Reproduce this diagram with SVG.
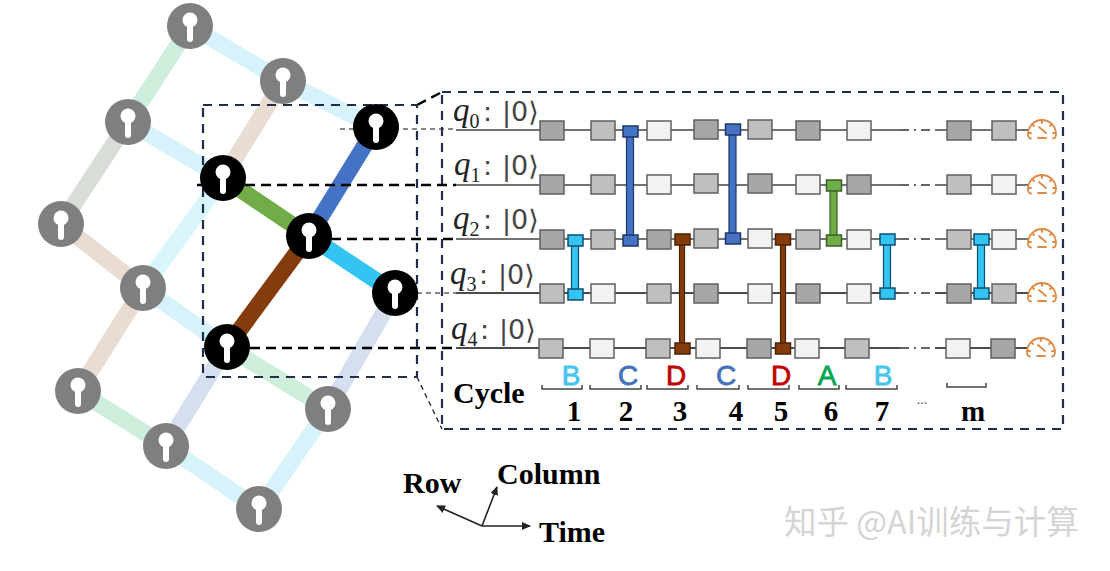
<svg xmlns="http://www.w3.org/2000/svg" xmlns:xlink="http://www.w3.org/1999/xlink" width="1110" height="571" viewBox="0 0 1110 571">
<style>
text{font-family:"Liberation Serif",serif}
.e{stroke-width:16.500;fill:none}
.gn{fill:#7f7f7f}.bn{fill:#000}
.kc{fill:#fff}
.k{stroke:#fff;stroke-width:6;stroke-linecap:round}
.dk{fill:#a6a6a6}.md{fill:#bfbfbf}.lt{fill:#f2f2f2}
.b{stroke:#5f5f5f;stroke-width:1.5;width:24px;height:19px}
.w{stroke:#444;stroke-width:1.5;fill:none}
.w2{stroke:#111;stroke-width:1.5;fill:none}
.wd{stroke:#333;stroke-width:1.5;stroke-dasharray:9 5 2 5;fill:none}
.box{fill:none;stroke:#1f2d4d;stroke-width:2.200;stroke-dasharray:9 7}
.lead{stroke:#000;stroke-width:2.500;stroke-dasharray:10 6;fill:none}
.leadt{stroke:#111;stroke-width:1.200;stroke-dasharray:5 4;fill:none}
.q{font-style:italic;font-size:33px;fill:#222}
.s{font-size:20px;fill:#222;font-style:normal}
.ket{font-family:"DejaVu Sans",sans-serif;font-size:27px;fill:#444;font-style:normal}
.lab{font-family:"Liberation Sans",sans-serif;font-size:28px;stroke-width:.8px}
.num{font-weight:bold;font-size:29px;fill:#000;text-anchor:middle}
.big{font-weight:bold;font-size:30px;fill:#000}
.br{fill:none;stroke:#444;stroke-width:1.5}
.g{fill:none;stroke:#df8a45;stroke-width:1.800;stroke-linecap:round}
.gblue rect{fill:#4472c4;stroke:#1f3864}
.gcy rect{fill:#33c4f2;stroke:#0f4d70}
.gbr rect{fill:#843c0c;stroke:#4a2206}
.ggr rect{fill:#70ad47;stroke:#38602a}
rect.h{width:15px;height:11px;stroke-width:1.5}
rect.v{width:7px;stroke-width:1.2}
.gbr rect.v{width:5px}
.ar{stroke:#222;stroke-width:1.6;fill:none;marker-end:url(#a)}
</style>
<defs>
<marker id="a" markerWidth="9" markerHeight="8" refX="8" refY="4" orient="auto" markerUnits="userSpaceOnUse"><path d="M0 0L9 4L0 8z" fill="#222"/></marker>
<g id="key"><circle class="kc" cx="0" cy="-6" r="7.500"/><path class="k" d="M0 -4V13"/></g>
<g id="gauge"><path class="g" d="M-11 8.500q-3 0-3-4.500A14 14 0 0 1 14 4q0 4.500-3 4.500M0 -10v3M-10 -6l2 2M10 -6l-2 2M-14 3h3M14 3h-3M-3 -3L4 3"/><path class="g" stroke-width="2.500" d="M-4 8h8"/></g>
</defs>
<rect width="1110" height="571" fill="#fff"/>

<g id="connectors">
<g id="lattice-edges">
<path class="e" stroke="#d6f3fb" d="M190 26L283 81L376 127"/>
<path class="e" stroke="#cdeedb" d="M190 26L128 122"/>
<path class="e" stroke="#d6f3fb" d="M128 122L223 178"/>
<path class="e" stroke="#d8ded6" d="M128 122L61 224"/>
<path class="e" stroke="#e9dcd3" d="M283 81L223 178"/>
<path class="e" stroke="#e9dcd3" d="M61 224L143 288"/>
<path class="e" stroke="#d9f6fc" d="M223 178L143 288"/>
<path class="e" stroke="#d6f3fb" d="M143 288L227 347"/>
<path class="e" stroke="#e9dcd3" d="M143 288L78 391"/>
<path class="e" stroke="#cdeedb" d="M227 347L328 409"/>
<path class="e" stroke="#d6dff0" d="M227 347L166 446"/>
<path class="e" stroke="#d6dff0" d="M395 293L328 409"/>
<path class="e" stroke="#cdeedb" d="M78 391L166 446"/>
<path class="e" stroke="#d6f3fb" d="M166 446L259 509"/>
<path class="e" stroke="#d6f3fb" d="M328 409L259 509"/>
<path class="e" stroke="#4472c4" d="M376 127L309 236"/>
<path class="e" stroke="#70ad47" d="M223 178L309 236"/>
<path class="e" stroke="#33c4f2" d="M309 236L395 293"/>
<path class="e" stroke="#843c0c" d="M309 236L227 347"/>
</g>
<g id="guides">
<path class="leadt" d="M340 129H456M417 293H456"/>
<path class="lead" d="M197 185H456M331 239H456M250 348H456"/>
<path class="leadt" d="M417 377L442 429"/>
<path class="lead" d="M417 105L442 92"/>
</g>
<g id="wires">
<path class="w" d="M456 130H900M935 130H1028"/><path class="wd" d="M900 130H935"/>
<path class="w" d="M456 185H900M935 185H1028"/><path class="wd" d="M900 185H935"/>
<path class="w" d="M456 239H900M935 239H1028"/><path class="wd" d="M900 239H935"/>
<path class="w2" d="M456 293H900M935 293H1028"/><path class="wd" d="M900 293H935"/>
<path class="w2" d="M456 348H900M935 348H1028"/><path class="wd" d="M900 348H935"/>
</g>
</g>

<rect class="box" x="203" y="105" width="214" height="272"/>
<rect class="box" x="442" y="92" width="621" height="337"/>

<g id="q-0"><circle class="gn" cx="190" cy="26" r="23"/><use href="#key" x="190" y="26"/></g>
<g id="q-1"><circle class="gn" cx="283" cy="81" r="23"/><use href="#key" x="283" y="81"/></g>
<g id="q-2"><circle class="gn" cx="128" cy="122" r="23"/><use href="#key" x="128" y="122"/></g>
<g id="q-3"><circle class="gn" cx="61" cy="224" r="23"/><use href="#key" x="61" y="224"/></g>
<g id="q-4"><circle class="gn" cx="143" cy="288" r="23"/><use href="#key" x="143" y="288"/></g>
<g id="q-5"><circle class="gn" cx="78" cy="391" r="23"/><use href="#key" x="78" y="391"/></g>
<g id="q-6"><circle class="gn" cx="166" cy="446" r="23"/><use href="#key" x="166" y="446"/></g>
<g id="q-7"><circle class="gn" cx="328" cy="409" r="23"/><use href="#key" x="328" y="409"/></g>
<g id="q-8"><circle class="gn" cx="259" cy="509" r="23"/><use href="#key" x="259" y="509"/></g>
<g id="b-0"><circle class="bn" cx="376" cy="127" r="23"/><use href="#key" x="376" y="127"/></g>
<g id="b-1"><circle class="bn" cx="223" cy="178" r="23"/><use href="#key" x="223" y="178"/></g>
<g id="b-2"><circle class="bn" cx="309" cy="236" r="23"/><use href="#key" x="309" y="236"/></g>
<g id="b-3"><circle class="bn" cx="395" cy="293" r="23"/><use href="#key" x="395" y="293"/></g>
<g id="b-4"><circle class="bn" cx="227" cy="347" r="23"/><use href="#key" x="227" y="347"/></g>

<g id="labels-q">
<text class="q" x="453" y="121">q<tspan class="s" dy="7">0</tspan><tspan class="ket" x="483" y="121">:</tspan><tspan class="ket" x="502" y="121">|0⟩</tspan></text>
<text class="q" x="454" y="175">q<tspan class="s" dy="7">1</tspan><tspan class="ket" x="483" y="175">:</tspan><tspan class="ket" x="502" y="175">|0⟩</tspan></text>
<text class="q" x="453" y="229">q<tspan class="s" dy="7">2</tspan><tspan class="ket" x="483" y="229">:</tspan><tspan class="ket" x="502" y="229">|0⟩</tspan></text>
<text class="q" x="450" y="284">q<tspan class="s" dy="7">3</tspan><tspan class="ket" x="479" y="284">:</tspan><tspan class="ket" x="498" y="284">|0⟩</tspan></text>
<text class="q" x="451" y="339">q<tspan class="s" dy="7">4</tspan><tspan class="ket" x="480" y="339">:</tspan><tspan class="ket" x="499" y="339">|0⟩</tspan></text>
</g>

<g id="gates-row0">
<rect class="b dk" x="540" y="121"/><rect class="b md" x="591" y="121"/><rect class="b lt" x="647" y="121"/><rect class="b dk" x="694" y="120"/><rect class="b md" x="748" y="120"/><rect class="b dk" x="796" y="121"/><rect class="b lt" x="847" y="121"/><rect class="b dk" x="947" y="121"/><rect class="b md" x="992" y="121"/>
</g>
<g id="gates-row1">
<rect class="b dk" x="540" y="175"/><rect class="b md" x="591" y="175"/><rect class="b lt" x="647" y="175"/><rect class="b md" x="694" y="174"/><rect class="b dk" x="748" y="174"/><rect class="b lt" x="796" y="175"/><rect class="b dk" x="847" y="175"/><rect class="b md" x="947" y="175"/><rect class="b lt" x="992" y="175"/>
</g>
<g id="gates-row2">
<rect class="b dk" x="540" y="230"/><rect class="b md" x="591" y="230"/><rect class="b dk" x="647" y="230"/><rect class="b md" x="694" y="229"/><rect class="b lt" x="748" y="229"/><rect class="b md" x="796" y="230"/><rect class="b lt" x="847" y="230"/><rect class="b md" x="947" y="230"/><rect class="b lt" x="992" y="230"/>
</g>
<g id="gates-row3">
<rect class="b md" x="540" y="284"/><rect class="b lt" x="591" y="284"/><rect class="b md" x="647" y="284"/><rect class="b dk" x="694" y="284"/><rect class="b lt" x="748" y="284"/><rect class="b dk" x="796" y="284"/><rect class="b lt" x="847" y="284"/><rect class="b dk" x="947" y="284"/><rect class="b md" x="992" y="284"/>
</g>
<g id="gates-row4">
<rect class="b md" x="539" y="339"/><rect class="b lt" x="590" y="339"/><rect class="b md" x="646" y="339"/><rect class="b lt" x="696" y="339"/><rect class="b dk" x="747" y="339"/><rect class="b lt" x="795" y="339"/><rect class="b md" x="845" y="339"/><rect class="b lt" x="946" y="339"/><rect class="b dk" x="991" y="339"/>
</g>

<g id="cz-blue-1" class="gblue"><rect class="v" x="626.500" y="131" height="109"/><rect class="h" x="623" y="126"/><rect class="h" x="623" y="235"/></g>
<g id="cz-blue-2" class="gblue"><rect class="v" x="729" y="129" height="109"/><rect class="h" x="725.500" y="124"/><rect class="h" x="725.500" y="233"/></g>
<g id="cz-cyan-1" class="gcy"><rect class="v" x="571.500" y="240" height="54"/><rect class="h" x="568" y="235"/><rect class="h" x="568" y="289"/></g>
<g id="cz-brown-1" class="gbr"><rect class="v" x="679.500" y="239" height="109"/><rect class="h" x="675" y="234"/><rect class="h" x="675" y="343"/></g>
<g id="cz-brown-2" class="gbr"><rect class="v" x="780.500" y="239" height="109"/><rect class="h" x="775.500" y="234"/><rect class="h" x="775.500" y="343"/></g>
<g id="cz-green" class="ggr"><rect class="v" x="830" y="185" height="55"/><rect class="h" x="826.500" y="180"/><rect class="h" x="826.500" y="235"/></g>
<g id="cz-cyan-2" class="gcy"><rect class="v" x="883.500" y="239" height="54"/><rect class="h" x="880" y="234"/><rect class="h" x="880" y="288"/></g>
<g id="cz-cyan-3" class="gcy"><rect class="v" x="977.500" y="239" height="54"/><rect class="h" x="974" y="234"/><rect class="h" x="974" y="288"/></g>

<g id="meters">
<use href="#gauge" x="1042" y="130"/><use href="#gauge" x="1042" y="185"/><use href="#gauge" x="1042" y="239"/><use href="#gauge" x="1042" y="293"/><use href="#gauge" x="1041" y="348"/>
</g>

<g id="cycle">
<text class="lab" x="571" y="385" text-anchor="middle" fill="#45c4ee" stroke="#45c4ee">B</text>
<text class="lab" x="628" y="385" text-anchor="middle" fill="#4472b8" stroke="#4472b8">C</text>
<text class="lab" x="676" y="385" text-anchor="middle" fill="#c00000" stroke="#c00000">D</text>
<text class="lab" x="726" y="385" text-anchor="middle" fill="#4472b8" stroke="#4472b8">C</text>
<text class="lab" x="781" y="385" text-anchor="middle" fill="#c00000" stroke="#c00000">D</text>
<text class="lab" x="827" y="385" text-anchor="middle" fill="#00a651" stroke="#00a651">A</text>
<text class="lab" x="883" y="385" text-anchor="middle" fill="#45c4ee" stroke="#45c4ee">B</text>
<path class="br" d="M542 385v4h40v-4M590 385v4h51v-4M647 385v4h41v-4M697 385v4h42v-4M748 385v4h41v-4M799 385v4h40v-4M846 385v4h51v-4M947 383v4h39v-4"/>
<text class="big" x="453" y="403">Cycle</text>
<text class="num" x="574" y="421">1</text>
<text class="num" x="626" y="421">2</text>
<text class="num" x="680" y="421">3</text>
<text class="num" x="736" y="421">4</text>
<text class="num" x="781" y="421">5</text>
<text class="num" x="831" y="421">6</text>
<text class="num" x="882" y="421">7</text>
<text x="922" y="404" font-size="14" text-anchor="middle" fill="#555">...</text>
<text class="num" x="973" y="421">m</text>
</g>

<g id="axes">
<path class="ar" d="M482 526L437 506"/>
<path class="ar" d="M482 526L497 487"/>
<path class="ar" d="M482 526H530"/>
<text class="big" x="403" y="493">Row</text>
<text class="big" x="497" y="484">Column</text>
<text class="big" x="539" y="542">Time</text>
</g>

<text id="watermark" x="784" y="534" font-size="32.500" fill="#d4d4d4" style="font-family:'Noto Sans CJK SC','Liberation Sans',sans-serif">知乎 @AI训练与计算</text>
</svg>
